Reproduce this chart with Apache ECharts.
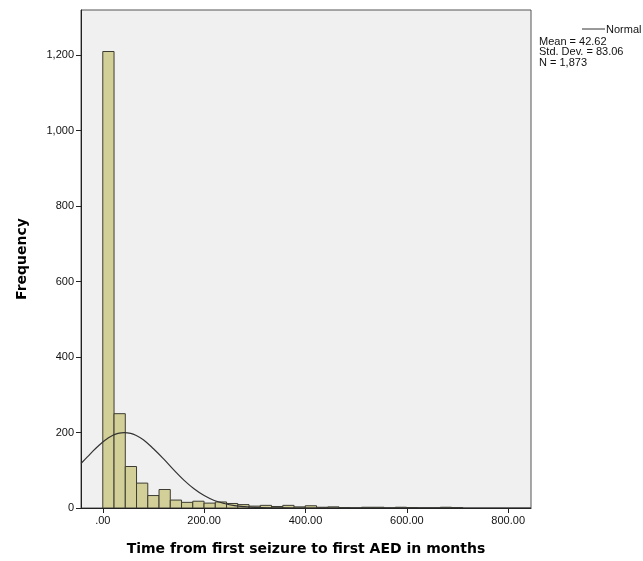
<!DOCTYPE html>
<html>
<head>
<meta charset="UTF-8">
<title>Histogram</title>
<script src="https://cdn.jsdelivr.net/npm/echarts@6.0.0/dist/echarts.min.js"></script>
<style>
  html, body { margin: 0; padding: 0; background: #fff; }
  #chart { width: 643px; height: 561px; }
</style>
</head>
<body>
<div id="chart"></div>
<script>
// histogram bins (months)
const binStart = 0;
const binWidth = 22.2;
const binCounts = [1210, 250, 110, 66, 33, 49, 21, 15, 18, 13, 16, 12, 9, 5, 7, 4, 7, 3, 6,
                   2, 3, 1, 0, 2, 2, 0, 2, 1, 0, 0, 2, 1];

// fitted normal curve
const curveX = [-43, -30, -20, -10, 0, 10, 20, 30, 42.6, 55, 65, 80, 100, 120, 140, 160, 180,
                200, 220, 240, 260, 280, 300, 330, 360, 400, 500, 845];
const curveY = [118, 136, 150, 163, 175, 185, 193, 198, 200, 198, 193, 181, 157, 130, 101, 74, 51,
                33, 20, 12, 6.5, 3.4, 1.6, 0.5, 0.1, 0, 0, 0];

const xTicks = [0, 200, 400, 600, 800];
const xTickLabels = ['.00', '200.00', '400.00', '600.00', '800.00'];
const yTicks = [0, 200, 400, 600, 800, 1000, 1200];
const yTickLabels = ['0', '200', '400', '600', '800', '1,000', '1,200'];

const statsLines = ['Mean = 42.62', 'Std. Dev. = 83.06', 'N = 1,873'];

const bins = binCounts.map((c, i) => [binStart + i * binWidth, binStart + (i + 1) * binWidth, c]);
const curve = curveX.map((x, i) => [x, curveY[i]]);

const font = 'Liberation Sans, Arial, sans-serif';
const titleFont = 'DejaVu Sans, Verdana, sans-serif';

const chart = echarts.init(document.getElementById('chart'));
chart.setOption({
  animation: false,
  grid: {
    left: 81, right: 112, top: 10, bottom: 53,
    show: true, backgroundColor: '#f0f0f0', borderColor: '#555', borderWidth: 1
  },
  xAxis: {
    type: 'value', min: -43, max: 845,
    name: 'Time from first seizure to first AED in months',
    nameLocation: 'middle', nameGap: 34,
    nameTextStyle: { fontFamily: titleFont, fontSize: 14, fontWeight: 'bold', color: '#000' },
    axisLine: { show: true, onZero: false, lineStyle: { color: '#222', width: 1 } },
    axisTick: { show: true, length: 5, customValues: xTicks, lineStyle: { color: '#222' } },
    axisLabel: {
      customValues: xTicks, margin: 7, fontFamily: font, fontSize: 11, color: '#111',
      formatter: v => xTickLabels[xTicks.indexOf(v)]
    },
    splitLine: { show: false }
  },
  yAxis: {
    type: 'value', min: 0, max: 1320,
    name: 'Frequency', nameLocation: 'middle', nameRotate: 90, nameGap: 52,
    nameTextStyle: { fontFamily: titleFont, fontSize: 14, fontWeight: 'bold', color: '#000' },
    axisLine: { show: true, onZero: false, lineStyle: { color: '#222', width: 1 } },
    axisTick: { show: true, length: 5, customValues: yTicks, lineStyle: { color: '#222' } },
    axisLabel: {
      customValues: yTicks, margin: 7, fontFamily: font, fontSize: 11, color: '#111',
      formatter: v => yTickLabels[yTicks.indexOf(v)]
    },
    splitLine: { show: false }
  },
  series: [
    {
      type: 'custom',
      data: bins,
      clip: true,
      renderItem: function (params, api) {
        const p0 = api.coord([api.value(0), api.value(2)]);
        const p1 = api.coord([api.value(1), 0]);
        return {
          type: 'rect',
          shape: { x: p0[0], y: p0[1], width: p1[0] - p0[0], height: p1[1] - p0[1] },
          style: { fill: '#d3cf98', stroke: '#3c3c32', lineWidth: 1 }
        };
      },
      encode: { x: [0, 1], y: 2 }
    },
    {
      type: 'line',
      name: 'Normal',
      data: curve,
      smooth: 0.4,
      symbol: 'none',
      clip: true,
      lineStyle: { color: '#333', width: 1.2 },
      z: 5
    }
  ],
  graphic: [
    { type: 'line', shape: { x1: 582, y1: 29, x2: 605, y2: 29 }, style: { stroke: '#333', lineWidth: 1 } },
    { type: 'text', left: 606, top: 24, style: { text: 'Normal', font: '11px ' + font, fill: '#111' } },
    {
      type: 'text', left: 539, top: 36,
      style: { text: statsLines.join('\n'), font: '11px ' + font, lineHeight: 10.5, fill: '#111' }
    }
  ]
});
</script>
</body>
</html>
